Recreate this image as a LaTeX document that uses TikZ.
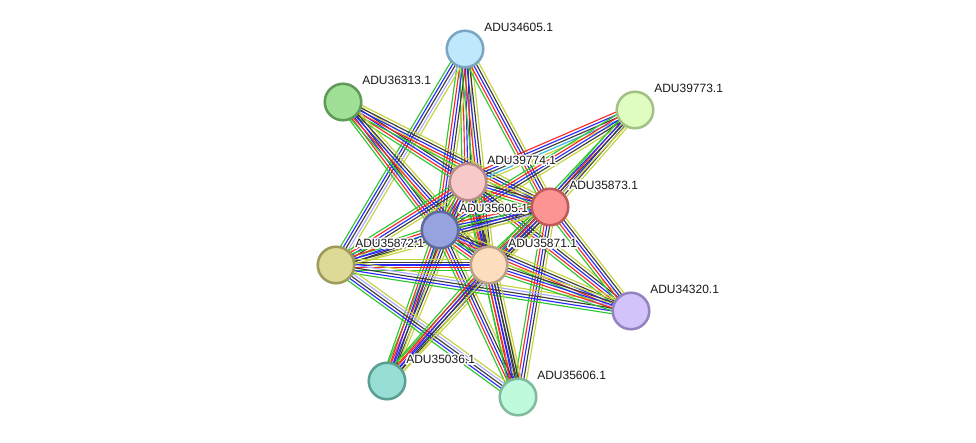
\documentclass[tikz,border=0pt]{standalone}
\usepackage{fontspec}
\setmainfont{Liberation Sans}
\usepackage{contour}
\contourlength{1.1pt}
\usetikzlibrary{calc,backgrounds}

% evidence colours
\definecolor{eg}{RGB}{46,200,46}
\definecolor{er}{RGB}{250,40,40}
\definecolor{eb}{RGB}{40,40,250}
\definecolor{ek}{RGB}{60,60,60}
\definecolor{ep}{RGB}{170,170,255}
\definecolor{ec}{RGB}{50,180,230}
\definecolor{ey}{RGB}{196,210,60}

% one bundle of parallel lines between two proteins
\newcommand{\bundle}[3]{%
  \foreach \col [count=\n] in {#3} {\global\let\nlines\n}%
  \foreach \col [count=\i] in {#3} {%
    \pgfmathsetmacro\off{(\i-(\nlines+1)/2)*2.1}%
    \draw[edge, draw=\col] ($(#1)!\off pt!90:(#2)$) -- ($(#2)!\off pt!-90:(#1)$);
  }}
% protein name with a white halo
\newcommand{\pname}[1]{\contour{white}{#1}}

\begin{document}
\begin{tikzpicture}[x=0.75pt, y=-0.75pt,
    prot/.style={circle, minimum size=27.4pt, inner sep=0pt, line width=1.9pt},
    lbl/.style={anchor=west, inner sep=0pt, font=\fontsize{9}{10}\selectfont, text=black!90, shift={(19,-20.5)}},
    edge/.style={line width=0.85pt}]
  \useasboundingbox (0,0) rectangle (976,443);

  % ============ PROTEINS ============
  \node[prot, fill={rgb,255:red,192;green,232;blue,252}, draw={rgb,255:red,123;green,166;blue,194}] (n34605) at (465,49) {};
  \node[prot, fill={rgb,255:red,159;green,223;blue,150}, draw={rgb,255:red,95;green,154;blue,87}] (n36313) at (343,102) {};
  \node[prot, fill={rgb,255:red,224;green,252;blue,192}, draw={rgb,255:red,162;green,194;blue,133}] (n39773) at (635,110) {};
  \node[prot, fill={rgb,255:red,248;green,201;blue,201}, draw={rgb,255:red,184;green,138;blue,138}] (n39774) at (468,182) {};
  \node[prot, fill={rgb,255:red,252;green,148;blue,148}, draw={rgb,255:red,192;green,90;blue,90}] (n35873) at (550,207) {};
  \node[prot, fill={rgb,255:red,151;green,163;blue,223}, draw={rgb,255:red,95;green,106;blue,159}] (n35605) at (440,230) {};
  \node[prot, fill={rgb,255:red,220;green,218;blue,150}, draw={rgb,255:red,157;green,154;blue,90}] (n35872) at (336,265) {};
  \node[prot, fill={rgb,255:red,252;green,222;blue,191}, draw={rgb,255:red,186;green,160;blue,136}] (n35871) at (489,265) {};
  \node[prot, fill={rgb,255:red,211;green,195;blue,251}, draw={rgb,255:red,149;green,131;blue,192}] (n34320) at (631,311) {};
  \node[prot, fill={rgb,255:red,151;green,223;blue,212}, draw={rgb,255:red,92;green,157;blue,148}] (n35036) at (387,381) {};
  \node[prot, fill={rgb,255:red,192;green,250;blue,220}, draw={rgb,255:red,128;green,187;blue,157}] (n35606) at (518,397) {};

  % labels up and right of each circle
  \node[lbl] (l34605) at (n34605) {\pname{ADU34605.1}};
  \node[lbl] (l36313) at (n36313) {\pname{ADU36313.1}};
  \node[lbl] (l39773) at (n39773) {\pname{ADU39773.1}};
  \node[lbl] (l39774) at (n39774) {\pname{ADU39774.1}};
  \node[lbl] (l35873) at (n35873) {\pname{ADU35873.1}};
  \node[lbl] (l35605) at (n35605) {\pname{ADU35605.1}};
  \node[lbl] (l35872) at (n35872) {\pname{ADU35872.1}};
  \node[lbl] (l35871) at (n35871) {\pname{ADU35871.1}};
  \node[lbl] (l34320) at (n34320) {\pname{ADU34320.1}};
  \node[lbl] (l35036) at (n35036) {\pname{ADU35036.1}};
  \node[lbl] (l35606) at (n35606) {\pname{ADU35606.1}};

  % ============ INTERACTIONS ============
  \begin{scope}[on background layer]
    \fill[white] (0,0) rectangle (976,443);
    % from ADU34605.1
    \bundle{n34605}{n39774}{eg,er,eb,ek,ey}
    \bundle{n34605}{n35605}{eg,er,eb,ek,ey}
    \bundle{n34605}{n35871}{eg,er,eb,ek,ey}
    \bundle{n34605}{n35873}{eg,er,eb,ek,ey}
    \bundle{n34605}{n35872}{eg,eb,ek,ep,ey}
    % from ADU36313.1
    \bundle{n36313}{n39774}{eg,er,eb,ek,ey}
    \bundle{n36313}{n35873}{eg,er,eb,ek,ey}
    \bundle{n36313}{n35605}{eg,er,eb,ek,ey}
    \bundle{n36313}{n35871}{eg,er,eb,ek,ey}
    % from ADU39773.1
    \bundle{n39773}{n39774}{er,eb,ek,ec,ey}
    \bundle{n39773}{n35873}{eg,er,eb,ek,ey}
    \bundle{n39773}{n35605}{eg,er,eb,ek,ey}
    \bundle{n39773}{n35871}{eg,eb,ek,ey}
    % from ADU39774.1
    \bundle{n39774}{n35873}{eg,er,eb,ek,ey}
    \bundle{n39774}{n35605}{eg,er,eb,ek,ey}
    \bundle{n39774}{n35871}{eg,er,eb,ek,ey}
    \bundle{n39774}{n35872}{eg,er,eb,ek,ey}
    \bundle{n39774}{n34320}{eg,er,eb,ek,ey}
    \bundle{n39774}{n35036}{eg,er,eb,ek,ey}
    \bundle{n39774}{n35606}{eg,er,eb,ek,ey}
    % from ADU35873.1
    \bundle{n35873}{n35605}{eg,er,eb,ek,ep,ey}
    \bundle{n35873}{n35871}{eg,er,eb,ek,ek,ey}
    \bundle{n35873}{n35872}{eg,eb,ek,ey}
    \bundle{n35873}{n34320}{eg,er,eb,ek,ey}
    \bundle{n35873}{n35606}{eg,er,eb,ek,ey}
    \bundle{n35873}{n35036}{eg,er,eb,ek,ey}
    % from ADU35605.1
    \bundle{n35605}{n35872}{eg,er,eb,ek,ey}
    \bundle{n35605}{n35871}{eg,er,eb,ek,ep,ey}
    \bundle{n35605}{n34320}{eg,er,eb,ek,ey}
    \bundle{n35605}{n35036}{eg,er,eb,ek,ey}
    \bundle{n35605}{n35606}{eg,er,eb,ek,ey}
    % from ADU35872.1
    \bundle{n35872}{n35871}{eg,er,eb,ek,ey}
    \bundle{n35872}{n34320}{eg,eb,ek,ep,ey}
    \bundle{n35872}{n35606}{eg,eb,ek,ep,ey}
    % from ADU35871.1
    \bundle{n35871}{n34320}{eg,er,eb,ek,ey}
    \bundle{n35871}{n35036}{eg,er,eb,ek,ey}
    \bundle{n35871}{n35606}{eg,er,eb,ek,ek,ey}
  \end{scope}
\end{tikzpicture}
\end{document}
